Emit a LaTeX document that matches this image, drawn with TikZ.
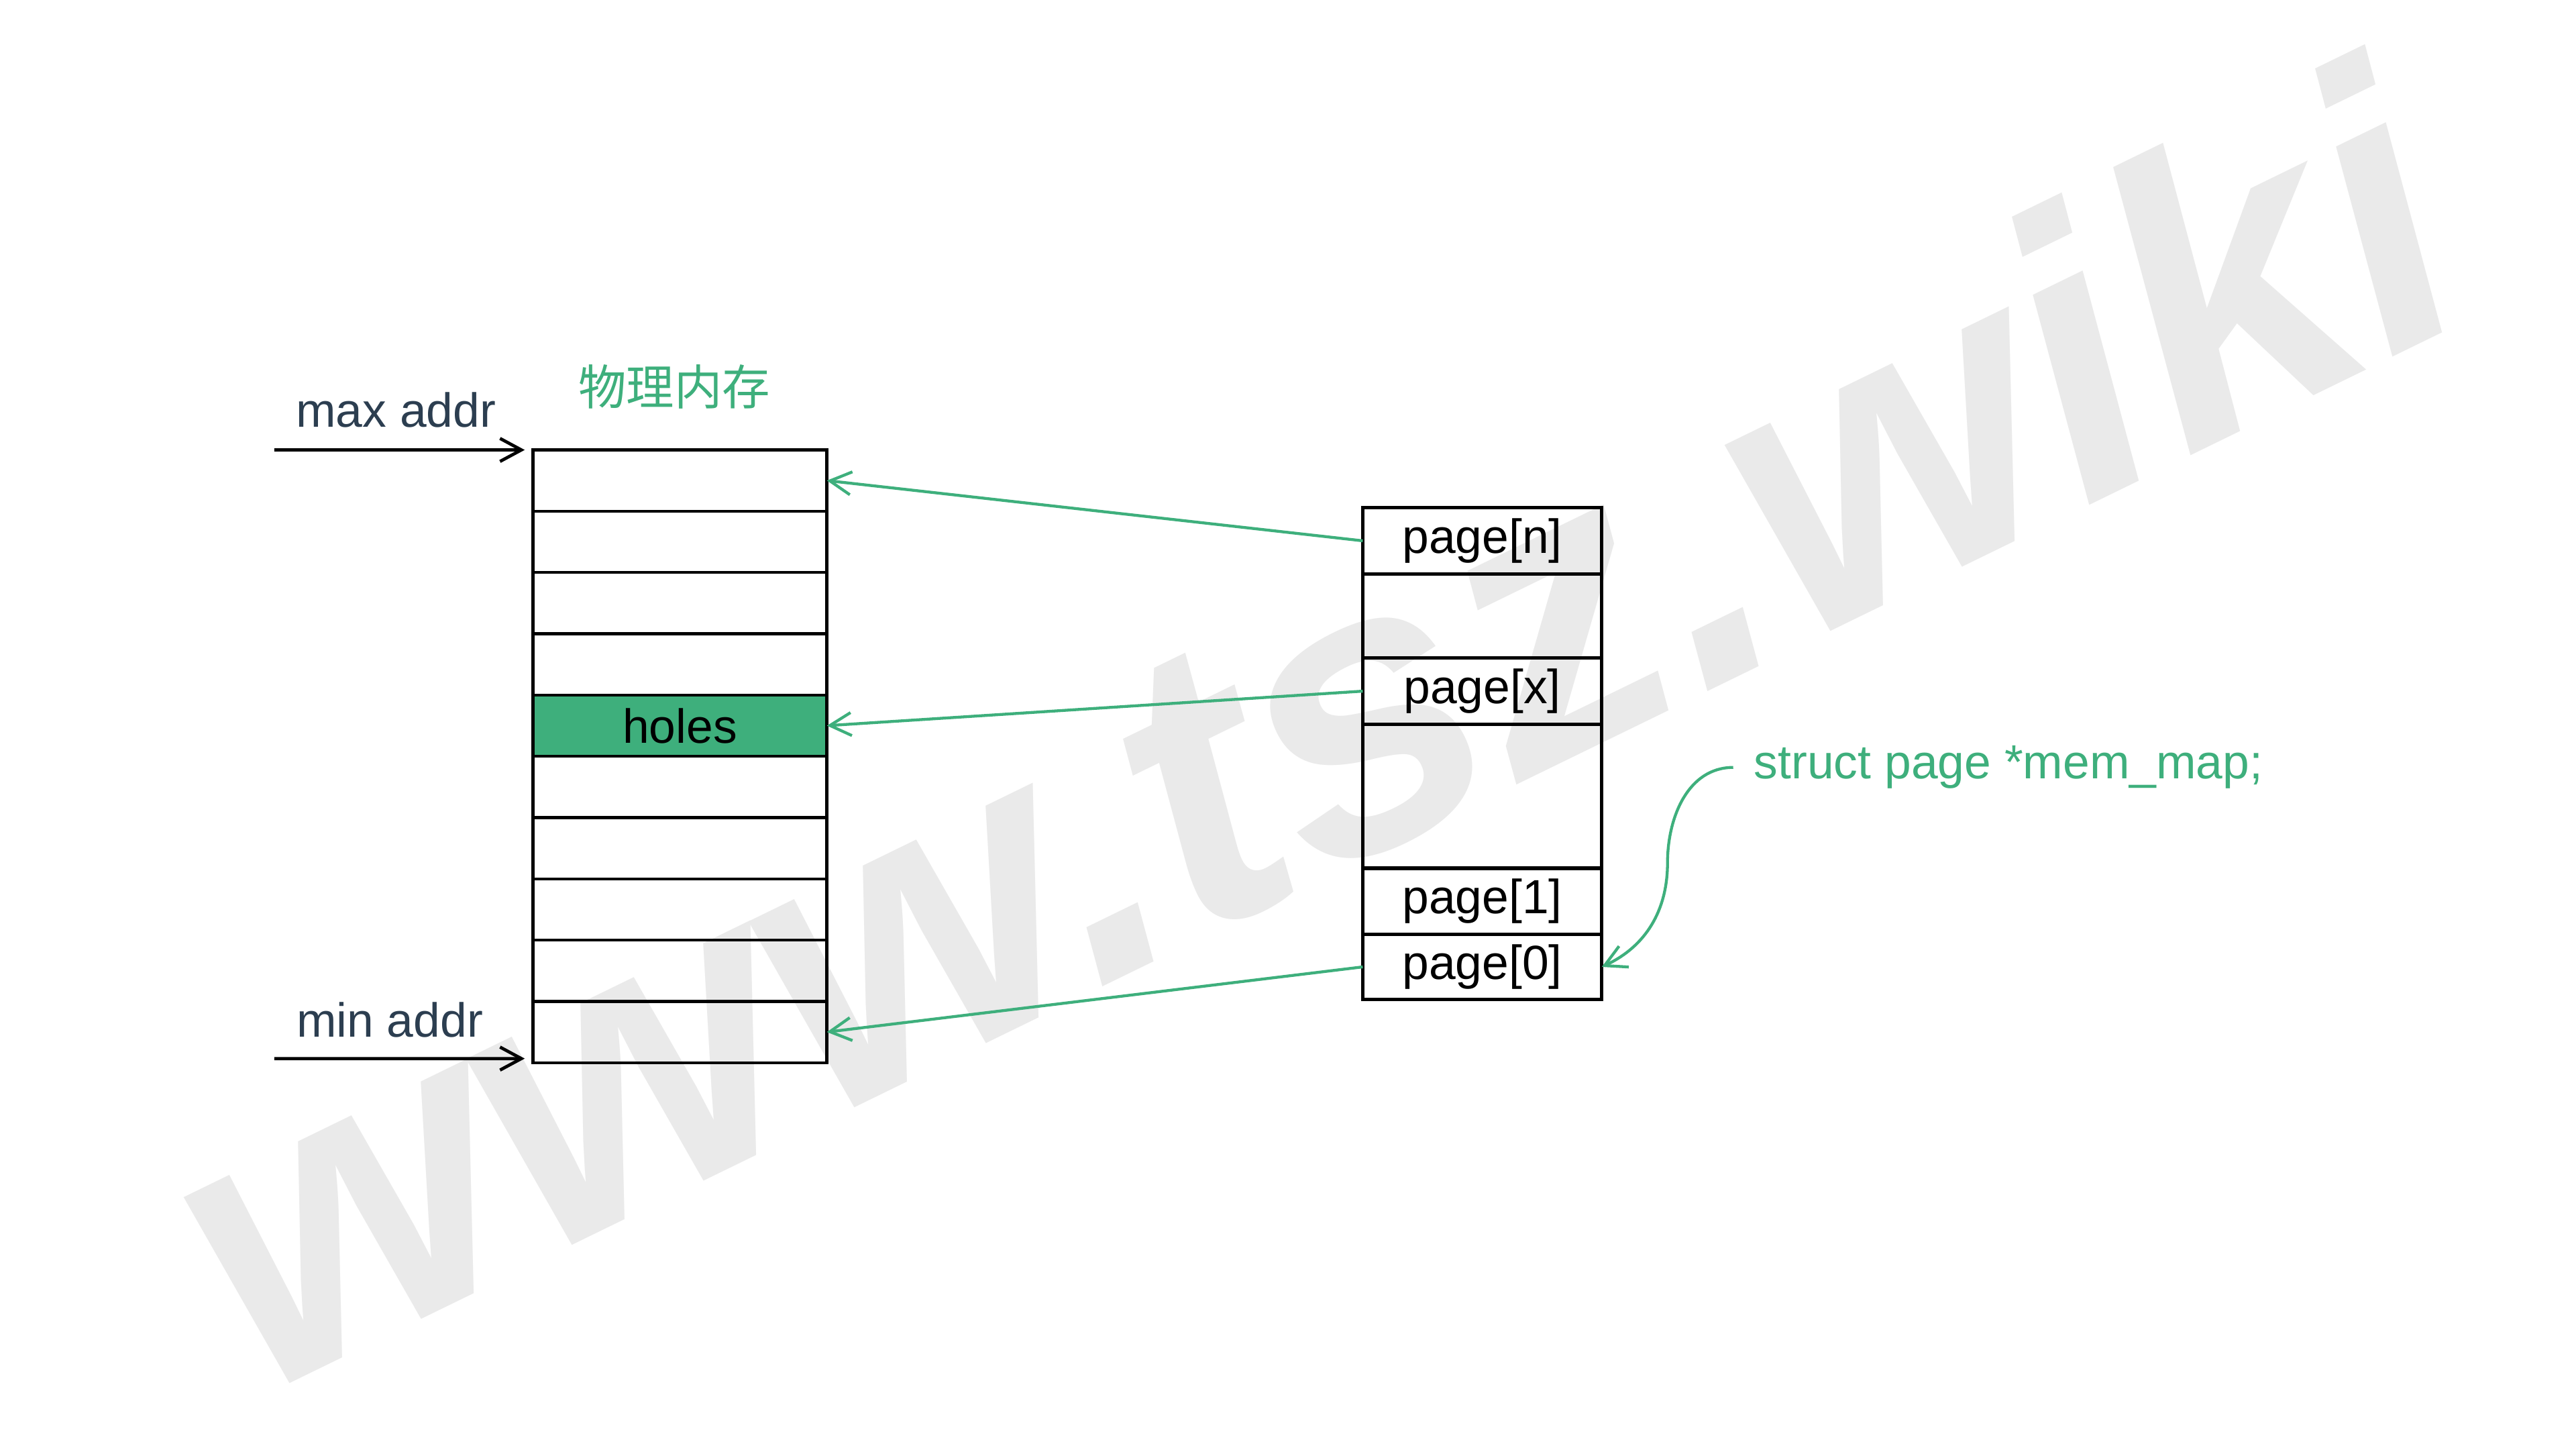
\documentclass[tikz,border=0pt]{standalone}
\usepackage{fontspec}
\setmainfont{Liberation Sans}
\newfontfamily\cjk{Noto Sans CJK SC}
\usetikzlibrary{arrows.meta}
\definecolor{vgreen}{HTML}{3EAF7C}
\definecolor{vtext}{HTML}{2C3E50}
\definecolor{wmgray}{HTML}{EAEAEA}
\tikzset{
    cell/.style={draw, line width=0.5pt, minimum width=17.89mm, minimum height=3.729mm, inner sep=0pt, outer sep=0pt},
    pagebox/.style={draw, line width=0.6pt, minimum width=14.55mm, inner sep=0pt, outer sep=0pt},
    lbl/.style={font=\fontsize{8.3}{10}\selectfont},
    garrow/.style={->, vgreen, line width=0.5pt},
    barrow/.style={->, black, line width=0.55pt},
}
\begin{document}
\begin{tikzpicture}[>={Straight Barb[length=1.3mm, width=1.4mm]}]
    \useasboundingbox (0,0) rectangle (15.68,8.82);
    % watermark
    \node[wmgray, font=\fontsize{70}{72}\selectfont\bfseries\itshape, rotate=26, anchor=base] (wm) at (8.36,3.62) {www.tsz.wiki};

    % physical memory
    \foreach \i /\fc /\txt in {1/none/,2/none/,3/none/,4/none/,5/vgreen/holes,6/none/,7/none/,8/none/,9/none/,10/none/}
    {
        \node[cell, lbl, fill=\fc] (m\i) at (4.1385,{6.082-(\i-0.5)*0.3729}) {\txt};
    }
    \node[lbl, vgreen, font=\cjk\fontsize{8.3}{10}\selectfont] (title) at (4.104,6.468) {物理内存};

    % mem_map
    \foreach \n /\y /\h /\txt in {pn/5.529/0.402/{page[n]}, e1/5.0725/0.511/{}, px/4.614/0.406/{page[x]}, e2/3.9735/0.875/{}, p1/3.335/0.402/{page[1]}, p0/2.936/0.396/{page[0]}}
    {
        \node[pagebox, lbl, minimum height=\h cm] (\n) at (9.0225,\y) {\txt};
    }
    \node[lbl, vgreen, anchor=west, inner sep=1.2mm] (mm) at (10.55,4.15) {struct page *mem\_map;};

    \node[lbl, vtext, anchor=base west, inner sep=0pt] (maxl) at (1.795,6.222) {max addr};
    \node[lbl, vtext, anchor=base west, inner sep=0pt] (minl) at (1.798,2.51) {min addr};
    \coordinate (maxs) at (1.67,6.082);
    \coordinate (mins) at (1.67,2.378);
    \coordinate (bend) at (10.15,3.57);

    \draw[barrow, shorten >=0.5mm] (maxs) -- (m1.north west);
    \draw[barrow, shorten >=0.5mm] (mins) -- ([yshift=0.25mm]m10.south west);
    \draw[garrow] (pn.west) -- (m1.east);
    \draw[garrow] (px.west) -- (m5.east);
    \draw[garrow] (p0.west) -- (m10.east);
    \draw[garrow] (mm.west) to[out=180, in=90] (bend) to[out=270, in=25] (p0.east);
\end{tikzpicture}
\end{document}
